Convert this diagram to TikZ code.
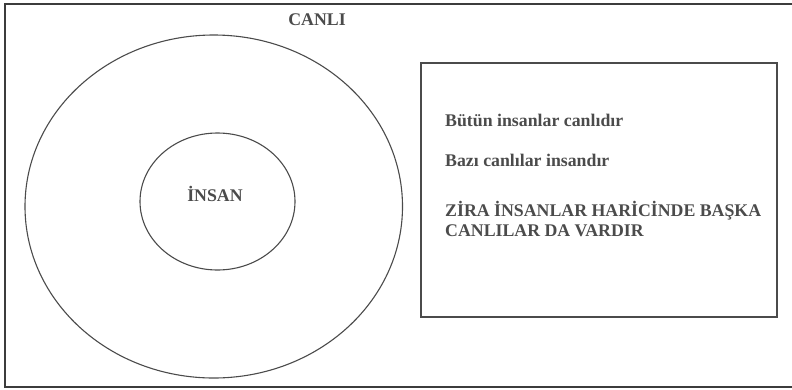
\documentclass[tikz,border=0pt]{standalone}
\usepackage{fontspec}
\setmainfont{Liberation Serif}
\usepackage{tikz}
\usetikzlibrary{shapes.geometric}
\definecolor{inkgray}{RGB}{75,75,75}
\definecolor{framegray}{RGB}{60,60,60}

\begin{document}
\begin{tikzpicture}[
  x=1pt, y=-1pt,
  set/.style={draw=inkgray, line width=1.1pt, ellipse, inner sep=0pt},
  setname/.style={font=\fontsize{17.8}{20}\selectfont\bfseries, text=inkgray, inner sep=0pt},
  note/.style={font=\fontsize{17.8}{20}\selectfont\bfseries, text=inkgray, inner sep=0pt, anchor=base west, align=left}
]
\useasboundingbox (0,0) rectangle (792,389);
% Frame
\draw[framegray, line width=1.6pt] (792,4) -- (5,4) -- (5,387) -- (792,387);

% Sets
\node[set, minimum width=377.5pt, minimum height=343pt] (canli) at (213.75,206.5) {};
\node[set, minimum width=155pt, minimum height=137pt] (insan) at (217.5,201.5) {};
\node[setname, anchor=base] (canliname) at (317,25.7) {CANLI};
\node[setname, anchor=base] (insanname) at (215,201) {İNSAN};

% Statements
\node[draw=inkgray, line width=1.2pt, minimum width=356pt, minimum height=254pt, inner sep=0pt] (box) at (599,190) {};
\node[note] (s1) at (445,126) {Bütün insanlar canlıdır};
\node[note] (s2) at (445,166) {Bazı canlılar insandır};
\node[note] (s3) at (445,236.7) {ZİRA İNSANLAR HARİCİNDE BAŞKA\\CANLILAR DA VARDIR};
\end{tikzpicture}
\end{document}
